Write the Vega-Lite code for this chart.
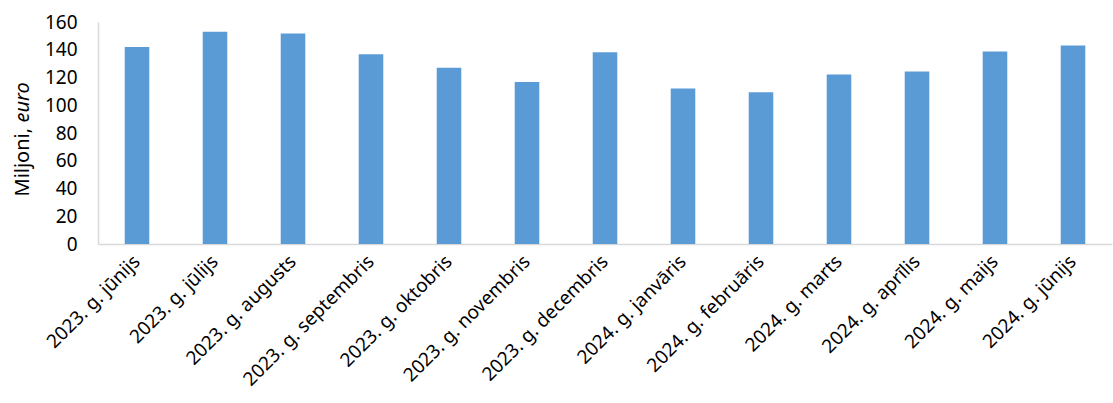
{
  "$schema": "https://vega.github.io/schema/vega-lite/v6.json",
  "autosize": {"type": "none"},
  "width": 1014,
  "height": 222,
  "padding": {"left": 98, "top": 22, "right": 1, "bottom": 159},
  "background": "white",
  "data": {
    "values": [
      {"m": "2023. g. jūnijs", "v": 142.0},
      {"m": "2023. g. jūlijs", "v": 153.0},
      {"m": "2023. g. augusts", "v": 151.8},
      {"m": "2023. g. septembris", "v": 136.7},
      {"m": "2023. g. oktobris", "v": 127.1},
      {"m": "2023. g. novembris", "v": 116.8},
      {"m": "2023. g. decembris", "v": 138.2},
      {"m": "2024. g. janvāris", "v": 112.0},
      {"m": "2024. g. februāris", "v": 109.4},
      {"m": "2024. g. marts", "v": 122.1},
      {"m": "2024. g. aprīlis", "v": 124.3},
      {"m": "2024. g. maijs", "v": 138.7},
      {"m": "2024. g. jūnijs", "v": 143.0}
    ]
  },
  "encoding": {
    "x": {
      "field": "m", "type": "nominal", "sort": null,
      "scale": {"paddingInner": 0.685, "paddingOuter": 0.3425},
      "axis": {
        "title": null, "labelAngle": -45, "labelAlign": "right", "labelBaseline": "middle",
        "labelFont": "Noto Sans", "labelFontSize": 19, "labelColor": "#000000",
        "ticks": false, "labelPadding": 14, "domainColor": "#d9d9d9", "domainWidth": 1.5,
        "labelOverlap": false, "labelLimit": 300
      }
    }
  },
  "layer": [
    {
      "mark": {"type": "bar", "color": "#5B9BD5"},
      "encoding": {
        "y": {
          "field": "v", "type": "quantitative",
          "scale": {"domain": [0, 160], "nice": false},
          "axis": {
            "title": "Miljoni,", "titleFont": "Noto Sans", "titleFontSize": 20, "titleFontWeight": "normal",
            "titleColor": "#000000", "titleX": -70, "titleY": 174, "titleAlign": "left", "titleBaseline": "alphabetic", "titleAngle": -90,
            "values": [0, 20, 40, 60, 80, 100, 120, 140, 160],
            "labelFont": "Noto Sans", "labelFontSize": 19, "labelColor": "#000000",
            "ticks": false, "labelPadding": 21, "grid": false,
            "domainColor": "#d9d9d9", "domainWidth": 1.5
          }
        }
      }
    },
    {
      "mark": {"type": "point", "opacity": 0},
      "encoding": {
        "y": {
          "field": "v", "type": "quantitative",
          "axis": {
            "orient": "left", "offset": 0,
            "title": "euro", "titleFont": "Noto Sans", "titleFontSize": 20, "titleFontWeight": "normal", "titleFontStyle": "italic",
            "titleColor": "#000000", "titleX": -70, "titleY": 100, "titleAlign": "left", "titleBaseline": "alphabetic", "titleAngle": -90,
            "labels": false, "ticks": false, "domain": false, "grid": false
          }
        }
      }
    }
  ],
  "resolve": {"axis": {"y": "independent"}},
  "config": {"view": {"stroke": null}}
}
